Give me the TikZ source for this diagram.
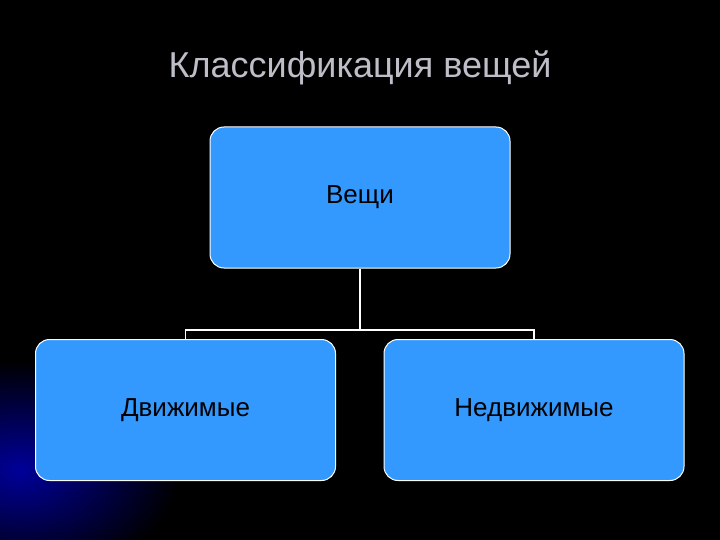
\documentclass[tikz,border=0pt]{standalone}
\usepackage{fontspec}
\setmainfont{Liberation Sans}
\definecolor{boxblue}{RGB}{51,153,255}
\definecolor{titlegray}{RGB}{190,190,200}
\begin{document}
\begin{tikzpicture}[x=1pt,y=-1pt,
  box/.style={draw=white,line width=1pt,fill=boxblue,rounded corners=14pt,minimum width=300pt,minimum height=141pt,font=\fontsize{26}{30}\selectfont,text=black},
  link/.style={draw=white,line width=1.5pt}]
\fill[black] (0,0) rectangle (720,540);
\begin{scope}
\clip (0,0) rectangle (720,540);
\shade[inner color=blue!60!black,outer color=black] (20,470) ellipse (160 and 110);
\end{scope}
\useasboundingbox (0,0) rectangle (720,540);
\node[text=titlegray,font=\fontsize{36}{40}\selectfont] (title) at (360,68) {Классификация вещей};
\node[box] (top) at (360,197.5) {Вещи};
\node[box] (left) at (185.5,410) {Движимые};
\node[box] (right) at (534,410) {Недвижимые};
\coordinate (mid) at (360,330);
\draw[link] (top.south) -- (mid);
\draw[link] (left.north) |- (mid) -| (right.north);
\end{tikzpicture}
\end{document}
